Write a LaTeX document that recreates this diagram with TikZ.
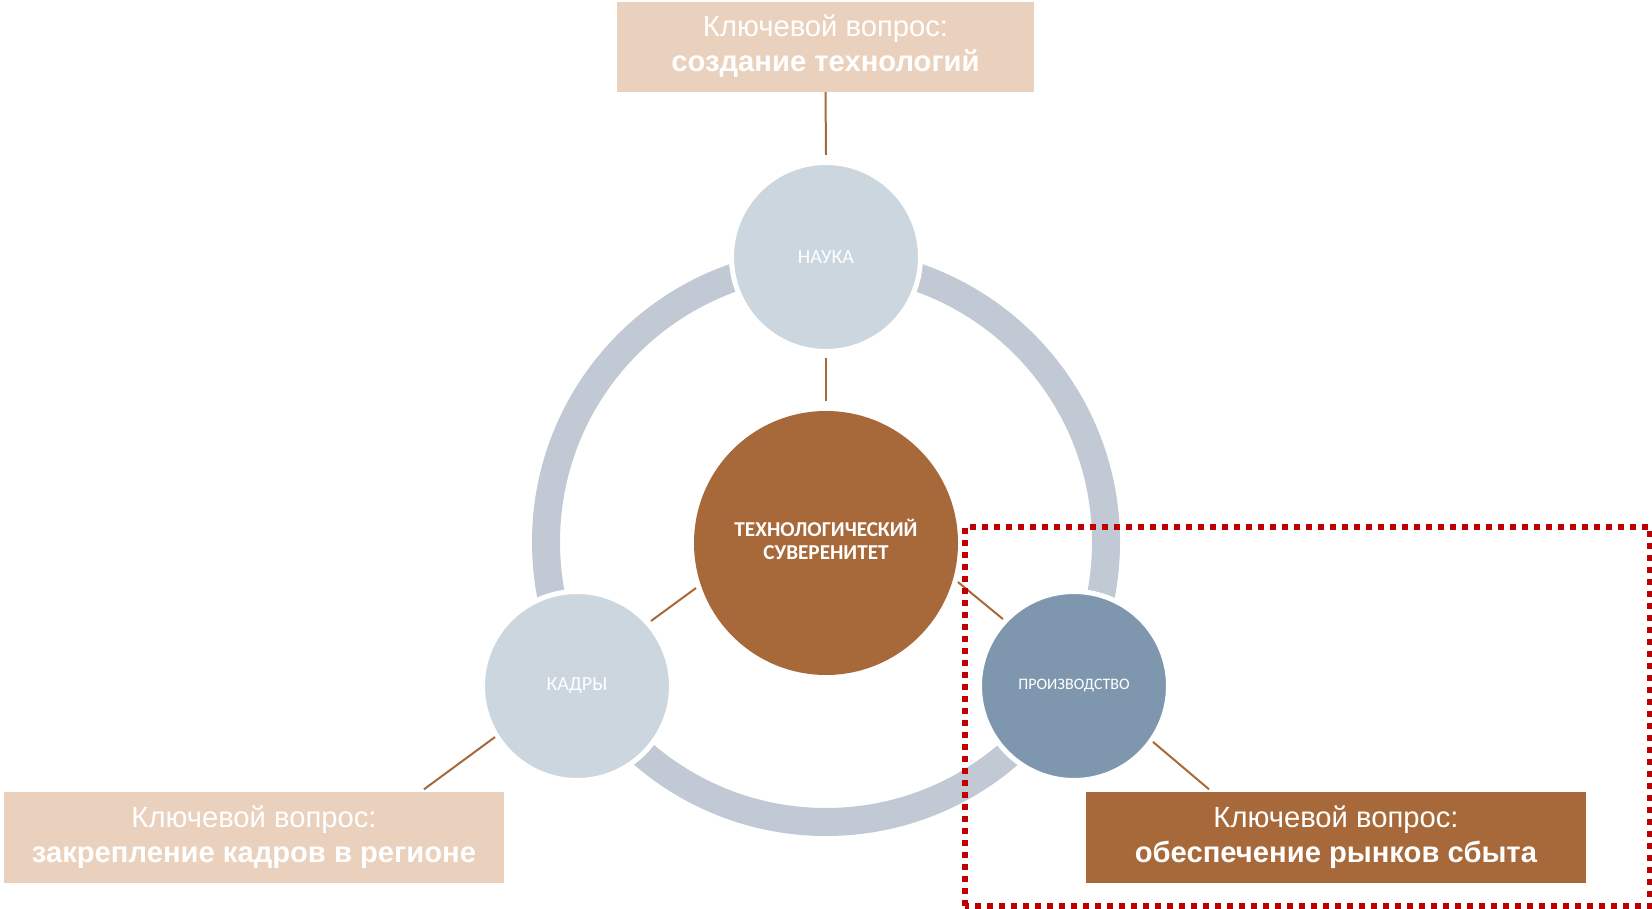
\documentclass[tikz,border=0pt]{standalone}
\usepackage{fontspec}
\setmainfont{Liberation Sans}
\newfontfamily\calfont{Carlito}
\usetikzlibrary{calc}
\definecolor{peach}{HTML}{EAD1BD}
\definecolor{rust}{HTML}{A8693A}
\definecolor{lightc}{HTML}{CBD6DF}
\definecolor{ringc}{HTML}{C1C9D4}
\definecolor{prodc}{HTML}{7F97AE}
\definecolor{redd}{HTML}{C00000}
\newcommand{\keytext}[1]{\raisebox{-3pt}{\begin{tabular}{@{}c@{}}Ключевой вопрос:\\\textbf{#1}\end{tabular}}}
\begin{document}
\begin{tikzpicture}[x=1pt,y=1pt,
  keybox/.style={minimum width=500pt, minimum height=91pt, inner sep=0pt, align=center, text=white, font=\fontsize{29.2}{35}\selectfont},
  smallc/.style={circle, draw=white, line width=5pt, minimum size=189pt, inner sep=0pt, text=white, font=\calfont\fontsize{20}{24}\selectfont},
  conn/.style={draw=rust, line width=2pt}
]
\useasboundingbox (0,0) rectangle (1652,908);
\fill[white] (0,0) rectangle (1652,908);

% ring
\draw[ringc, line width=28pt] (826,366) circle[radius=280];

% boxes
\node[keybox, fill=peach, minimum width=417pt, minimum height=90pt] (TB) at (825.5,861) {\keytext{создание технологий}};
\node[keybox, fill=peach] (BL) at (254,70.5) {\keytext{закрепление кадров в регионе}};
\node[keybox, fill=rust] (BR) at (1336,70.5) {\keytext{обеспечение рынков сбыта}};

% circles
\node[circle, fill=rust, minimum size=264pt, inner sep=0pt, align=center, text=white, font=\calfont\bfseries\fontsize{21.2}{23.5}\selectfont] (C) at (826,365) {\raisebox{1.5pt}{\begin{tabular}{@{}c@{}}ТЕХНОЛОГИЧЕСКИЙ\\СУВЕРЕНИТЕТ\end{tabular}}};
\node[smallc, fill=lightc] (N) at (826,651) {НАУКА};
\node[smallc, fill=lightc] (K) at (577,222) {КАДРЫ};
\node[smallc, fill=prodc, font=\calfont\fontsize{16}{18}\selectfont] (P) at (1074,222) {ПРОИЗВОДСТВО};

% connector end points
\coordinate (tb1) at ($(N)+(90:102)$);
\coordinate (nc1) at ($(N)+(270:101)$);
\coordinate (nc2) at ($(C)+(90:142)$);
\coordinate (kc1) at ($(K)+(41.3:98.5)$);
\coordinate (kc2) at ($(C)+(199.1:137.6)$);
\coordinate (kb1) at ($(K)+(211.9:96.6)$);
\coordinate (kb2) at ($(BL.north)+(170,2.5)$);
\coordinate (cp1) at ($(C)+(-16.5:137.6)$);
\coordinate (cp2) at ($(P)+(136.7:97.6)$);
\coordinate (pb1) at ($(P)+(-35.3:96.8)$);
\coordinate (pb2) at ($(BR.north)+(-127,2.5)$);

\draw[conn] (TB.south) -- (tb1);
\draw[conn] (nc1) -- (nc2);
\draw[conn] (kc1) -- (kc2);
\draw[conn] (kb1) -- (kb2);
\draw[conn] (cp1) -- (cp2);
\draw[conn] (pb1) -- (pb2);

% highlight frame
\draw[redd, line width=5.5pt, dash pattern=on 6pt off 6pt] (965,2) rectangle (1650,381);
\end{tikzpicture}
\end{document}
